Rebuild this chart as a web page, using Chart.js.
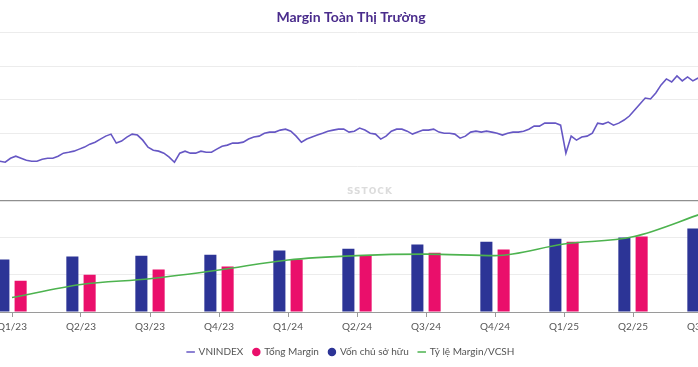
<!DOCTYPE html>
<html>
<head>
<meta charset="utf-8">
<script src="https://cdn.jsdelivr.net/npm/chart.js@4.4.1/dist/chart.umd.min.js"></script>
<style>
  html, body { margin: 0; padding: 0; background: #fff; overflow: hidden; }
  body { width: 698px; height: 367px; position: relative; }
  #wrap { position: absolute; left: -40px; top: 0; width: 782px; height: 367px; }
  .mark { position: absolute; left: 347px; top: 186px; font: bold 9px "DejaVu Sans"; color: #dcdcdc; letter-spacing: 1px; }
</style>
</head>
<body>
<div id="wrap"><canvas id="marginChart" width="782" height="367"></canvas></div>
<div class="mark">SSTOCK</div>
<script>
// DATA
const quarters = ["Q1/23", "Q2/23", "Q3/23", "Q4/23", "Q1/24", "Q2/24", "Q3/24", "Q4/24", "Q1/25", "Q2/25", "Q3/25"];
const equity = [141, 149, 151, 154, 165, 170, 181, 189, 197, 200, 224];   // Vốn chủ sở hữu
const margin = [84, 100, 114, 122, 141, 151, 159, 168, 189, 203, 265];    // Tổng Margin
const ratio = [60, 69, 73, 79, 86, 89, 90, 89, 97, 102, 118];             // Tỷ lệ Margin/VCSH (%)

// VNINDEX, weekly closes from 2023-03-15
const vnStart = "2023-03-15";
const vnindex = [
  1042, 1034, 1064, 1079, 1064, 1049, 1042, 1042, 1057, 1064,
  1064, 1079, 1102, 1109, 1117, 1132, 1147, 1169, 1184, 1207,
  1229, 1244, 1177, 1192, 1222, 1244, 1237, 1199, 1147, 1124,
  1117, 1102, 1072, 1034, 1102, 1117, 1102, 1102, 1117, 1109,
  1109, 1132, 1154, 1162, 1177, 1177, 1184, 1207, 1222, 1229,
  1251, 1259, 1259, 1274, 1281, 1266, 1229, 1184, 1207, 1222,
  1237, 1251, 1266, 1274, 1281, 1281, 1259, 1266, 1289, 1274,
  1251, 1244, 1207, 1229, 1266, 1281, 1281, 1266, 1244, 1259,
  1274, 1274, 1281, 1259, 1251, 1251, 1244, 1214, 1229, 1259,
  1266, 1259, 1266, 1259, 1251, 1237, 1251, 1259, 1259, 1266,
  1281, 1304, 1304, 1326, 1326, 1326, 1311, 1102, 1229, 1199,
  1222, 1229, 1251, 1326, 1319, 1334, 1311, 1326, 1349, 1379,
  1424, 1469, 1513, 1506, 1551, 1611, 1656, 1633, 1678, 1641,
  1671, 1641, 1663
];

const legendOrder = ["VNINDEX", "Tổng Margin", "Vốn chủ sở hữu", "Tỷ lệ Margin/VCSH"];

// quarter-end dates place the weekly index on the same axis as the bars
const q1End = new Date("2023-03-31").getTime();
const dayMs = 86400000;
const quarterDays = 365.25 / 4;
const startMs = new Date(vnStart).getTime();
const vnPoints = vnindex.map((v, i) => ({
  x: (startMs + i * 7 * dayMs - q1End) / dayMs / quarterDays,
  y: v
}));

const FONT = "Lato, 'Noto Sans', sans-serif";
Chart.defaults.font.family = FONT;
Chart.defaults.color = "#555";

const ctx = document.getElementById("marginChart").getContext("2d");

// hidden left axes keep a fixed gutter so the title stays centred on the page
const leftGutter = scale => { scale.width = 12; };

// the group slots are shared by all four datasets here, so the two bars
// take the middle two slots of each quarter
new Chart(ctx, {
  type: "line",
  data: {
    labels: quarters,
    datasets: [
      {
        type: "line",
        label: "VNINDEX",
        data: vnPoints,
        xAxisID: "xv",
        yAxisID: "yv",
        borderColor: "#6657c4",
        backgroundColor: "#6657c4",
        borderWidth: 1.6,
        pointRadius: 0,
        pointStyle: "line",
        tension: 0,
        order: 0
      },
      {
        type: "bar",
        label: "Vốn chủ sở hữu",
        data: equity,
        xAxisID: "x",
        yAxisID: "yb",
        backgroundColor: "#2c3496",
        borderColor: "#2c3496",
        borderWidth: 0,
        pointStyle: "circle",
        categoryPercentage: 1.0,
        barPercentage: 0.7,
        order: 1
      },
      {
        type: "bar",
        label: "Tổng Margin",
        data: margin,
        xAxisID: "x",
        yAxisID: "yb",
        backgroundColor: "#ea0f6b",
        borderColor: "#ea0f6b",
        borderWidth: 0,
        pointStyle: "circle",
        categoryPercentage: 1.0,
        barPercentage: 0.7,
        order: 1
      },
      {
        type: "line",
        label: "Tỷ lệ Margin/VCSH",
        data: ratio,
        xAxisID: "x",
        yAxisID: "yr",
        borderColor: "#4db34f",
        backgroundColor: "#4db34f",
        borderWidth: 1.6,
        pointRadius: 0,
        pointStyle: "line",
        cubicInterpolationMode: "monotone",
        order: 0
      }
    ]
  },
  options: {
    responsive: false,
    animation: false,
    devicePixelRatio: 1,
    layout: { padding: { left: 5.5, right: 5.5, top: 0, bottom: 0 } },
    plugins: {
      title: {
        display: true,
        text: "Margin Toàn Thị Trường",
        color: "#4a2c8c",
        font: { family: FONT, size: 14, weight: "bold" },
        padding: { top: 9, bottom: 7 }
      },
      legend: {
        position: "bottom",
        labels: {
          usePointStyle: true,
          boxWidth: 6,
          boxHeight: 6,
          padding: 10,
          color: "#555",
          font: { family: FONT, size: 10 },
          sort: (a, b) => legendOrder.indexOf(a.text) - legendOrder.indexOf(b.text)
        }
      },
      tooltip: { enabled: false }
    },
    scales: {
      x: {
        type: "category",
        position: "bottom",
        offset: true,
        grid: { display: true, drawOnChartArea: false, drawTicks: true, tickLength: 5, offset: false, color: "#9a9a9a" },
        border: { display: true, color: "#9a9a9a" },
        ticks: { autoSkip: false, maxRotation: 0, padding: 4, color: "#555", font: { family: FONT, size: 10 } }
      },
      xv: {
        type: "linear",
        position: "bottom",
        display: false,
        offset: false,
        min: -0.5,
        max: 10.5
      },
      yb: {
        type: "linear",
        position: "left",
        stack: "panel",
        stackWeight: 2,
        min: 0,
        max: 300,
        afterFit: leftGutter,
        ticks: { display: false, stepSize: 100 },
        border: { display: false },
        grid: {
          drawTicks: false,
          color: c => (c.tick.value === 100 || c.tick.value === 200) ? "#ececec" : "rgba(0,0,0,0)"
        }
      },
      yv: {
        type: "linear",
        position: "left",
        stack: "panel",
        stackWeight: 3,
        min: 750,
        max: 2000,
        afterFit: leftGutter,
        ticks: { display: false, stepSize: 250 },
        border: { display: false },
        grid: {
          drawTicks: false,
          lineWidth: c => c.tick.value === 750 ? 1.2 : 1,
          color: c => c.tick.value === 750 ? "#8f8f8f" : "#ececec"
        }
      },
      yr: {
        type: "linear",
        position: "right",
        display: false,
        min: 50,
        max: 243
      }
    }
  }
});
</script>
</body>
</html>
